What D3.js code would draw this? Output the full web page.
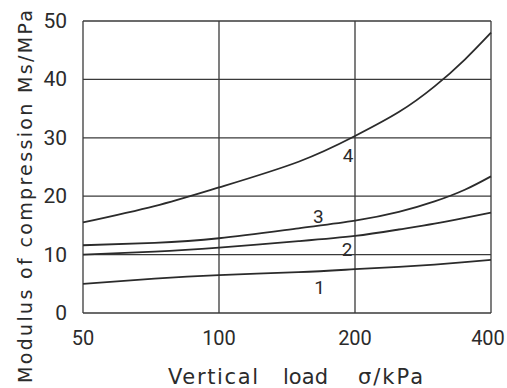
<!DOCTYPE html>
<html>
<head>
<meta charset="utf-8">
<script src="https://cdn.jsdelivr.net/npm/d3@7"></script>
<style>
  body { margin: 0; background: #fff; }
  svg text { font-family: "DejaVu Sans", sans-serif; fill: #2b2b2b; }
  svg text.tick { font-family: Roboto, "DejaVu Sans", sans-serif; }
</style>
</head>
<body>
<div id="chart"></div>
<script>
const width = 507;
const height = 388;

// chart values
const loads = [50, 72, 100, 150, 200, 250, 300, 350, 400]; // kPa
const curve1 = [5.0, 5.9, 6.5, 7.0, 7.5, 7.9, 8.3, 8.7, 9.1];
const curve2 = [10.0, 10.5, 11.2, 12.3, 13.2, 14.3, 15.3, 16.3, 17.2];
const curve3 = [11.6, 12.0, 12.8, 14.5, 15.8, 17.3, 19.1, 21.1, 23.4];
const curve4 = [15.5, 18.3, 21.5, 25.9, 30.3, 34.4, 38.8, 43.4, 48.0];
const curveNames = ['1', '2', '3', '4'];
const labelLoads = [167, 192, 166, 193];
const labelValues = [4.5, 11, 16.6, 27];

const xTicks = [50, 100, 200, 400];
const yTicks = [0, 10, 20, 30, 40, 50];

const margin = { top: 21, right: 16, bottom: 75, left: 83 };

const svg = d3.select('#chart')
  .append('svg')
  .attr('width', width)
  .attr('height', height);

const x = d3.scaleLog()
  .base(2)
  .domain([50, 400])
  .range([margin.left, width - margin.right]);

const y = d3.scaleLinear()
  .domain([0, 50])
  .range([height - margin.bottom, margin.top]);

const ink = '#2b2b2b';

// grid
svg.append('g')
  .selectAll('line')
  .data(yTicks)
  .join('line')
  .attr('x1', x(50)).attr('x2', x(400))
  .attr('y1', d => y(d)).attr('y2', d => y(d))
  .attr('stroke', '#3a3a3a').attr('stroke-width', 1.3);

svg.append('g')
  .selectAll('line')
  .data(xTicks)
  .join('line')
  .attr('x1', d => x(d)).attr('x2', d => x(d))
  .attr('y1', y(0)).attr('y2', y(50))
  .attr('stroke', '#3a3a3a').attr('stroke-width', 1.3);

// tick labels
svg.append('g')
  .selectAll('text')
  .data(yTicks)
  .join('text')
  .attr('class', 'tick')
  .attr('x', 67)
  .attr('y', d => y(d) + 7)
  .attr('text-anchor', 'end')
  .attr('font-size', 21)
  .text(d => d);

svg.append('g')
  .selectAll('text')
  .data(xTicks)
  .join('text')
  .attr('class', 'tick')
  .attr('x', (d, i) => x(d) - (i === xTicks.length - 1 ? 3 : 0)) // keep last label inside
  .attr('y', 345)
  .attr('text-anchor', 'middle')
  .attr('font-size', 20)
  .text(d => d);

// curves
const series = [curve1, curve2, curve3, curve4];
const line = d3.line()
  .x((d, i) => x(loads[i]))
  .y(d => y(d))
  .curve(d3.curveNatural);

svg.append('g')
  .selectAll('path')
  .data(series)
  .join('path')
  .attr('d', d => line(d))
  .attr('fill', 'none')
  .attr('stroke', ink)
  .attr('stroke-width', 1.8);

svg.append('g')
  .selectAll('text')
  .data(curveNames)
  .join('text')
  .attr('class', 'tick')
  .attr('x', (d, i) => x(labelLoads[i]))
  .attr('y', (d, i) => y(labelValues[i]) + 7)
  .attr('text-anchor', 'middle')
  .attr('font-size', 19)
  .text(d => d);

// axis titles
svg.append('text')
  .attr('transform', 'translate(32,383) rotate(-90)')
  .attr('font-size', 19)
  .attr('textLength', 373)
  .attr('lengthAdjust', 'spacing')
  .text('Modulus of compression Ms/MPa');

const xTitle = [
  { t: 'Vertical', x0: 168, w: 90 },
  { t: 'load', x0: 283, w: 45 },
  { t: 'σ/kPa', x0: 358, w: 65 }
];
svg.append('g')
  .selectAll('text')
  .data(xTitle)
  .join('text')
  .attr('x', d => d.x0)
  .attr('y', 384)
  .attr('font-size', 21)
  .attr('textLength', d => d.w)
  .attr('lengthAdjust', 'spacing')
  .text(d => d.t);
</script>
</body>
</html>
